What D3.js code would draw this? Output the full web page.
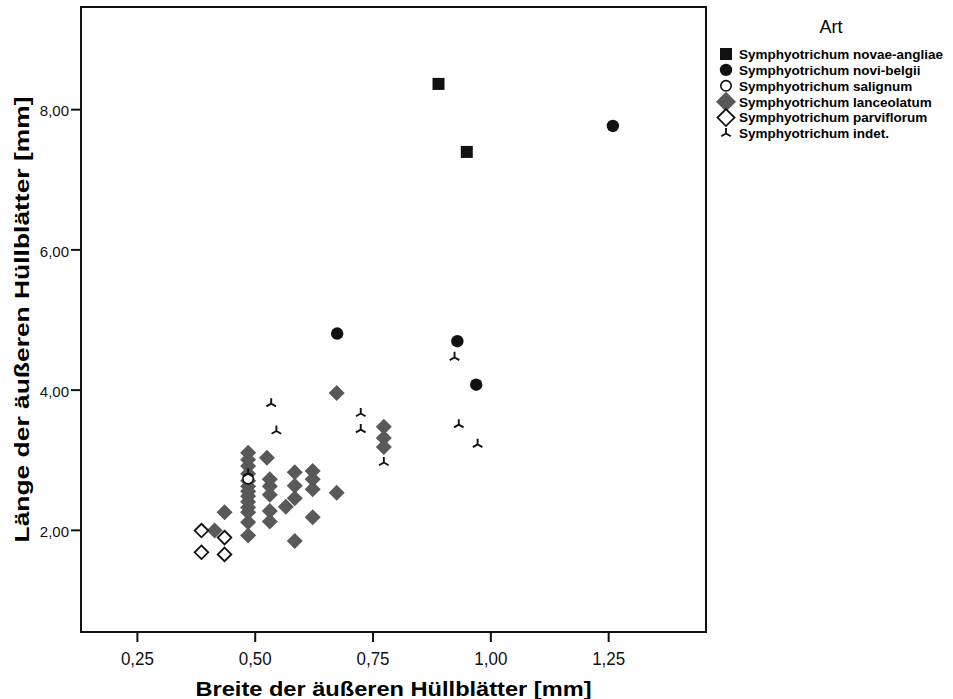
<!DOCTYPE html>
<html>
<head>
<meta charset="utf-8">
<script src="https://cdn.jsdelivr.net/npm/d3@7"></script>
<style>
  body { margin: 0; background: #fff; }
  svg { font-family: "Liberation Sans", Arial, sans-serif; }
</style>
</head>
<body>
<svg id="chart"></svg>
<script>
const width = 953
const height = 699

// Breite / Länge [mm] je Art
const novaeAngliaeX = [0.89, 0.95]
const novaeAngliaeY = [8.36, 7.39]
const noviBelgiiX = [1.26, 0.675, 0.93, 0.97]
const noviBelgiiY = [7.76, 4.80, 4.69, 4.07]
const salignumX = [0.486]
const salignumY = [2.73]
const lanceolatumX = [0.674, 0.774, 0.774, 0.774,
  0.486, 0.486, 0.486, 0.486, 0.486, 0.486, 0.486, 0.486, 0.486, 0.486, 0.486, 0.486, 0.486,
  0.526, 0.532, 0.532, 0.532, 0.532, 0.532, 0.566,
  0.585, 0.585, 0.585, 0.585, 0.623, 0.623, 0.623, 0.623,
  0.674, 0.436, 0.415]
const lanceolatumY = [3.95, 3.47, 3.31, 3.18,
  3.10, 3.00, 2.91, 2.80, 2.70, 2.62, 2.55, 2.48, 2.40, 2.32, 2.25, 2.11, 1.92,
  3.03, 2.72, 2.62, 2.50, 2.27, 2.12, 2.33,
  2.82, 2.63, 2.45, 1.84, 2.84, 2.72, 2.58, 2.18,
  2.53, 2.25, 1.99]
const parviflorumX = [0.387, 0.436, 0.387, 0.436]
const parviflorumY = [1.99, 1.89, 1.68, 1.65]
const indetX = [0.924, 0.725, 0.725, 0.774, 0.933, 0.973, 0.535, 0.546, 0.486]
const indetY = [4.46, 3.66, 3.43, 2.96, 3.50, 3.22, 3.80, 3.41, 2.80]

const xTicks = [0.25, 0.5, 0.75, 1.0, 1.25]
const yTicks = [2, 4, 6, 8]

const speciesNames = ["Symphyotrichum novae-angliae", "Symphyotrichum novi-belgii",
  "Symphyotrichum salignum", "Symphyotrichum lanceolatum",
  "Symphyotrichum parviflorum", "Symphyotrichum indet."]
const speciesX = [novaeAngliaeX, noviBelgiiX, salignumX, lanceolatumX, parviflorumX, indetX]
const speciesY = [novaeAngliaeY, noviBelgiiY, salignumY, lanceolatumY, parviflorumY, indetY]
// filled grey diamonds go underneath the rest
const drawOrder = [3, 0, 1, 2, 4, 5]

const margin = {left: 81, top: 7, right: 247, bottom: 67}

const x = d3.scaleLinear()
            .domain([0.1314, 1.4576])
            .range([margin.left, width - margin.right])
const y = d3.scaleLinear()
            .domain([0.543, 9.457])
            .range([height - margin.bottom, margin.top])

const comma = d => d3.format(".2f")(d).replace(".", ",")

const svg = d3.select("#chart")
              .attr("width", width)
              .attr("height", height)

// marker drawers
const gray = "#595959"
function drawMarker(g, idx, s) {
  if (idx === 0) {
    g.append("rect").attr("x", -6 * s).attr("y", -6 * s).attr("width", 12 * s).attr("height", 12 * s)
     .attr("fill", "#111")
  } else if (idx === 1) {
    g.append("circle").attr("r", 6.2 * s).attr("fill", "#111")
  } else if (idx === 2) {
    g.append("circle").attr("r", 5.2 * s).attr("fill", "#fff").attr("stroke", "#111").attr("stroke-width", 1.6)
  } else if (idx === 3) {
    const r = 8 * s
    g.append("path").attr("d", `M0,${-r}L${r},0L0,${r}L${-r},0Z`).attr("fill", gray)
  } else if (idx === 4) {
    const r = 6.8 * s
    g.append("path").attr("d", `M0,${-r}L${r},0L0,${r}L${-r},0Z`)
     .attr("fill", "#fff").attr("stroke", "#111").attr("stroke-width", 1.8)
  } else {
    const a = 5.5 * s
    g.append("path").attr("d", `M0,0L0,${-a}M0,0L${-a * 0.87},${a * 0.5}M0,0L${a * 0.87},${a * 0.5}`)
     .attr("fill", "none").attr("stroke", "#111").attr("stroke-width", 1.9)
  }
}

// points
drawOrder.forEach(i => {
  const pts = speciesX[i].map((v, j) => [v, speciesY[i][j]])
  svg.append("g")
     .selectAll("g")
     .data(pts)
     .join("g")
       .attr("transform", d => `translate(${x(d[0])},${y(d[1])})`)
       .each(function() { drawMarker(d3.select(this), i, 1) })
})

// frame
svg.append("rect")
   .attr("x", margin.left).attr("y", margin.top)
   .attr("width", width - margin.right - margin.left)
   .attr("height", height - margin.bottom - margin.top)
   .attr("fill", "none").attr("stroke", "#111").attr("stroke-width", 2)

const xAxis = svg.append("g")
   .attr("transform", `translate(0,${height - margin.bottom})`)
   .call(d3.axisBottom(x).tickValues(xTicks).tickFormat(comma).tickSize(10).tickSizeOuter(0))
xAxis.select(".domain").remove()
xAxis.selectAll("line").attr("stroke", "#111").attr("stroke-width", 2)
xAxis.selectAll("text").attr("font-size", 19).attr("fill", "#111").attr("dy", "1.05em")
     .attr("textLength", 33).attr("lengthAdjust", "spacingAndGlyphs")

const yAxis = svg.append("g")
   .attr("transform", `translate(${margin.left},0)`)
   .call(d3.axisLeft(y).tickValues(yTicks).tickFormat(comma).tickSize(10).tickSizeOuter(0))
yAxis.select(".domain").remove()
yAxis.selectAll("line").attr("stroke", "#111").attr("stroke-width", 2)
yAxis.selectAll("text").attr("font-size", 15).attr("fill", "#111").attr("x", -12).attr("dy", "0.45em")

// axis titles
svg.append("text")
   .attr("x", (margin.left + width - margin.right) / 2)
   .attr("y", 696)
   .attr("text-anchor", "middle")
   .attr("font-size", 20).attr("font-weight", "bold")
   .attr("textLength", 396).attr("lengthAdjust", "spacingAndGlyphs")
   .text("Breite der äußeren Hüllblätter [mm]")

svg.append("text")
   .attr("transform", `translate(29,${(margin.top + height - margin.bottom) / 2}) rotate(-90)`)
   .attr("text-anchor", "middle")
   .attr("font-size", 20).attr("font-weight", "bold")
   .attr("textLength", 446).attr("lengthAdjust", "spacingAndGlyphs")
   .text("Länge der äußeren Hüllblätter [mm]")

// legend
const legend = svg.append("g")
legend.append("text")
      .attr("x", 831).attr("y", 33)
      .attr("text-anchor", "middle")
      .attr("font-size", 18)
      .text("Art")

const item = legend.selectAll("g.item")
                   .data(speciesNames)
                   .join("g")
                   .attr("class", "item")
                   .attr("transform", (d, i) => `translate(726,${54 + i * 15.9})`)
item.each(function(d, i) { drawMarker(d3.select(this), i, i === 3 || i === 4 ? 1.25 : 1) })
item.append("text")
    .attr("x", 13).attr("dy", "0.36em")
    .attr("font-size", 13.5).attr("font-weight", "bold")
    .text(d => d)
</script>
</body>
</html>
